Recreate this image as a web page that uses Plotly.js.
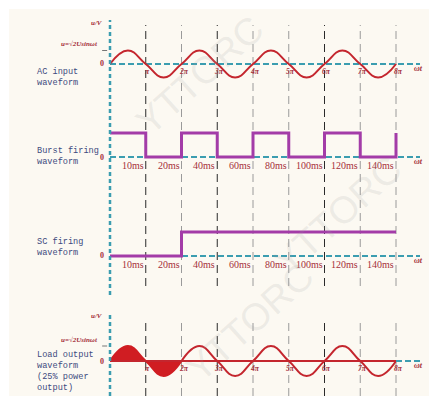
<!DOCTYPE html>
<html><head><meta charset="utf-8">
<script src="https://cdn.plot.ly/plotly-3.0.1.min.js"></script>
<style>html,body{margin:0;padding:0;background:#fff}#c{width:429px;height:396px}</style>
</head><body><div id="c"></div>
<script>
// ---- data ----
const piPositions = [1,2,3,4,5,6,7,8];
const piLabels = ["π","2π","3π","4π","5π","6π","7π","8π"];
const darkGrid = [1,3,6];
const timeLabels = ["10ms","20ms","40ms","60ms","80ms","100ms","120ms","140ms"];
// AC input: zero crossings and peaks (in units of π)
const acX = [0,0.5,1,1.5,2,2.5,3,3.5,4,4.5,5,5.5,6,6.5,7,7.5,8];
const acY = [0,1,0,-1,0,1,0,-1,0,1,0,-1,0,1,0,-1,0];
// Burst firing (step levels)
const burstX = [0,1,2,3,4,5,6,7,8];
const burstY = [1,0,1,0,1,0,1,0,1];
// SC firing
const scX = [0,2,8];
const scY = [0,1,1];
// Load output: conducting cycle and remaining outline
const loadOnX = [0,0.5,1,1.5,2];
const loadOnY = [0,1,0,-1,0];
const loadOffX = [2,2.5,3,3.5,4,4.5,5,5.5,6,6.5,7,7.5,8];
const loadOffY = [0,1,0,-1,0,1,0,-1,0,1,0,-1,0];
const leftLabels = [["AC input","waveform"],["Burst firing","waveform"],["SC firing","waveform"],["Load output","waveform","(25% power","output)"]];

// ---- layout helpers (pixel geometry) ----
const W=429,H=396, X0=110, PI_PX=35.75;
const xr=[-X0/PI_PX,(W-X0)/PI_PX];
const py = p => (H-p)/H;
function panel(z,a,top,bot){return {domain:[py(bot),py(top)],range:[-(bot-z)/a,(z-top)/a],visible:false,fixedrange:true};}
const RED='#c4262e', PURPLE='#a33ca8', TEAL='#3b9db0', LBL='#3d4a7e', DRED='#a5303a';

const traces=[
 {x:acX,y:acY,yaxis:'y',mode:'lines',line:{color:RED,width:2,shape:'spline',smoothing:1.3},hoverinfo:'skip'},
 {x:burstX,y:burstY,yaxis:'y2',mode:'lines',line:{color:PURPLE,width:3,shape:'hv'},hoverinfo:'skip'},
 {x:scX,y:scY,yaxis:'y3',mode:'lines',line:{color:PURPLE,width:3,shape:'hv'},hoverinfo:'skip'},
 {x:loadOnX,y:loadOnY,yaxis:'y4',mode:'lines',fill:'tozeroy',fillcolor:'#d01d22',line:{color:'#d01d22',width:2,shape:'spline',smoothing:1.3},hoverinfo:'skip'},
 {x:loadOffX,y:loadOffY,yaxis:'y4',mode:'lines',line:{color:RED,width:2,shape:'spline',smoothing:1.3},hoverinfo:'skip'},
 {x:[loadOnX[0],loadOffX[loadOffX.length-1]],y:[0,0],yaxis:'y4',mode:'lines',line:{color:RED,width:2},hoverinfo:'skip'}
];

const shapes=[];
// cream background
shapes.push({type:'rect',xref:'paper',yref:'paper',x0:9/W,x1:1,y0:0,y1:py(9),fillcolor:'#fcf9f2',line:{width:0},layer:'below'});
// vertical grid lines
piPositions.forEach(p=>{
  const col = darkGrid.includes(p)?'#2a2a2a':'#9a9a9a';
  [[25,286],[320,396]].forEach(s=>shapes.push({type:'line',xref:'x',yref:'paper',x0:p,x1:p,y0:py(s[1]),y1:py(s[0]),line:{color:col,width:1,dash:'8px,5px'},layer:'below'}));
});
// vertical teal axis
[[20,295],[312,396]].forEach(s=>shapes.push({type:'line',xref:'x',yref:'paper',x0:0,x1:0,y0:py(s[1]),y1:py(s[0]),line:{color:TEAL,width:2.5,dash:'4px,3px'}}));
// horizontal zero axes
['y','y2','y3'].forEach(ya=>shapes.push({type:'line',xref:'x',yref:ya,x0:0,x1:(420-X0)/PI_PX,y0:0,y1:0,line:{color:TEAL,width:2,dash:'6px,3px'},layer:'below'}));
shapes.push({type:'line',xref:'x',yref:'y4',x0:8,x1:(420-X0)/PI_PX,y0:0,y1:0,line:{color:TEAL,width:2,dash:'6px,3px'}});
// amplitude tick marks
['y','y4'].forEach(ya=>shapes.push({type:'line',xref:'x',yref:ya,x0:-0.22,x1:-0.08,y0:1,y1:1,line:{color:'#777',width:1}}));

const ann=[];
const yrefs=['y','y2','y3','y4'];
const labelY=[[72,83],[151,162],[242,253],[355,366,377,388]];
leftLabels.forEach((lines,i)=>lines.forEach((t,j)=>{
  ann.push({xref:'paper',yref:'paper',x:35/W,y:py(labelY[i][j]),xanchor:'left',yanchor:'middle',align:'left',text:t,showarrow:false,
    font:{family:'Liberation Mono, monospace',size:8.6,color:LBL}});
}));
// "0" labels
yrefs.forEach(ya=>ann.push({xref:'x',yref:ya,x:-0.1,y:0,xanchor:'right',yanchor:'middle',text:'<b>0</b>',showarrow:false,font:{family:'Liberation Serif',size:8,color:DRED}}));
// u/V and formula
[['y',64,23],['y4',361,316]].forEach(([ya,z,uy])=>{
  const a = ya==='y'?13.5:15;
  ann.push({xref:'x',yref:ya,x:(97-X0)/PI_PX,y:(z-uy)/a,xanchor:'center',yanchor:'middle',text:'<i><b>u/V</b></i>',showarrow:false,font:{family:'Liberation Serif',size:7,color:DRED}});
  ann.push({xref:'x',yref:ya,x:-0.27,y:1,xanchor:'right',yanchor:'bottom',text:'<i><b>u=√2Usinωt</b></i>',showarrow:false,font:{family:'Liberation Serif',size:7,color:DRED}});
});
// π labels
['y','y4'].forEach(ya=>piPositions.forEach((p,i)=>ann.push({xref:'x',yref:ya,x:p+0.06,y:0,yanchor:'top',yshift:-1,text:'<i><b>'+piLabels[i]+'</b></i>',showarrow:false,font:{family:'Liberation Serif',size:7.5,color:DRED}})));
// time labels
['y2','y3'].forEach(ya=>piPositions.forEach((p,i)=>ann.push({xref:'x',yref:ya,x:p,y:0,xanchor:'right',yanchor:'top',yshift:-1,text:timeLabels[i],showarrow:false,font:{family:'Liberation Serif',size:10,color:DRED}})));
// ωt labels
yrefs.forEach(ya=>ann.push({xref:'x',yref:ya,x:(418-X0)/PI_PX,y:0,xanchor:'center',yanchor:'top',yshift:2,text:'<i><b>ωt</b></i>',showarrow:false,font:{family:'Liberation Serif',size:8,color:DRED}}));
// watermark
[[200,75],[338,215],[250,322]].forEach(w=>ann.push({xref:'paper',yref:'paper',x:w[0]/W,y:py(w[1]),xanchor:'center',yanchor:'middle',text:'YTTORC',textangle:-42,showarrow:false,
  font:{family:'Liberation Sans',size:38,color:'rgba(160,160,160,0.16)'}}));

const layout={width:W,height:H,margin:{l:0,r:0,t:0,b:0},paper_bgcolor:'#ffffff',plot_bgcolor:'rgba(0,0,0,0)',showlegend:false,
  xaxis:{range:xr,visible:false,fixedrange:true},
  yaxis:panel(64,13.5,12,112),
  yaxis2:panel(157,24,117,197),
  yaxis3:panel(256,24,216,296),
  yaxis4:panel(361,15,305,396),
  shapes:shapes,annotations:ann};
Plotly.newPlot('c',traces,layout,{displayModeBar:false,staticPlot:true});
</script></body></html>
